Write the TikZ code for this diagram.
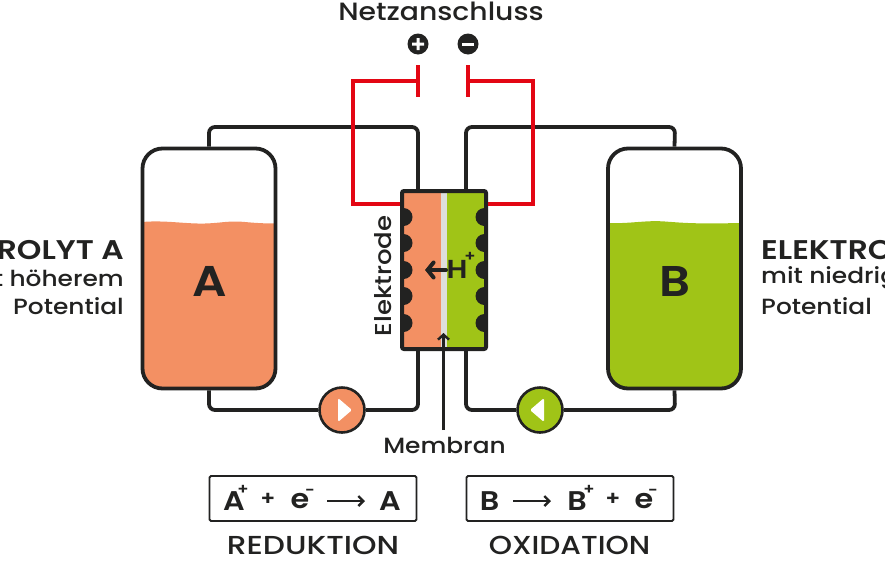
\documentclass[tikz,border=0pt]{standalone}
\usepackage{fontspec}
\setmainfont{Poppins}
\newfontfamily\wideface[FakeStretch=1.13]{Poppins Medium}
\newfontfamily\capsface[FakeStretch=1.2]{Poppins Medium}
\newfontfamily\oxiface[FakeStretch=1.14]{Poppins Medium}
\newfontfamily\capsboldface[FakeStretch=1.16]{Poppins SemiBold}
\newfontfamily\eqface[FakeStretch=1.12]{Poppins SemiBold}
\usetikzlibrary{arrows.meta}
\definecolor{ink}{HTML}{222221}
\definecolor{orangefill}{HTML}{F39063}
\definecolor{greenfill}{HTML}{A0C417}
\definecolor{redline}{HTML}{E30613}
\definecolor{membrane}{HTML}{DEDEDC}
\tikzset{
  x=1pt,y=-1pt,
  pipe/.style={draw=ink,line width=3.8pt,rounded corners=6pt},
  wire/.style={draw=redline,line width=3.6pt,line join=miter},
  plate/.style={draw=redline,line width=3.6pt},
  tank/.style={draw=ink,line width=3.8pt,rounded corners=20pt,minimum width=133pt,minimum height=240pt,inner sep=0pt},
  tanklabel/.style={text=ink,inner sep=0pt,font=\eqface\fontsize{43}{43}\selectfont},
  pump/.style={circle,draw=ink,line width=2.6pt,minimum size=45pt,inner sep=0pt},
  pole/.style={circle,fill=ink,minimum size=21pt,inner sep=0pt},
  eqbox/.style={draw=ink,line width=1.9pt,rounded corners=1.5pt,minimum width=207pt,minimum height=45pt,inner sep=0pt},
  txt/.style={text=ink,inner sep=0pt,font=\wideface\fontsize{22}{22}\selectfont},
  capstxt/.style={text=ink,inner sep=0pt,font=\capsface\fontsize{26}{26}\selectfont},
  capsbold/.style={text=ink,inner sep=0pt,font=\capsboldface\fontsize{27}{27}\selectfont},
  eq/.style={text=ink,inner sep=0pt,font=\eqface\fontsize{27}{27}\selectfont},
  sm/.style={text=ink,inner sep=0pt,font=\eqface\fontsize{15}{15}\selectfont},
  opr/.style={text=ink,inner sep=0pt,font=\eqface\fontsize{20}{20}\selectfont},
  react/.style={draw=ink,line width=2.4pt,-{Straight Barb[length=5pt,width=10pt]}},
  dot/.style={circle,fill=ink,minimum size=18pt,inner sep=0pt},
}
\begin{document}
\begin{tikzpicture}
\useasboundingbox (0,0) rectangle (885,560);
\clip (0,0) rectangle (885,560);
% liquids
\begin{scope}
\clip[rounded corners=20pt] (142,148) rectangle (276,389);
\fill[orangefill] (142,222) .. controls (165,220) and (185,224) .. (205,223.5) .. controls (222,223) and (228,220.5) .. (245,222) .. controls (255,223) and (265,223.5) .. (276,223.5) -- (276,389) -- (142,389) -- cycle;
\end{scope}
\begin{scope}
\clip[rounded corners=20pt] (607,148) rectangle (741,389);
\fill[greenfill] (607,223) .. controls (630,224) and (645,220) .. (665,221.5) .. controls (685,223) and (695,224) .. (741,223) -- (741,389) -- (607,389) -- cycle;
\end{scope}
% tanks
\node[tank] (tankA) at (209,268.5) {};
\node[tank] (tankB) at (674.5,268.5) {};
\node[tanklabel] (labelA) at (210,281) {A};
\node[tanklabel] (labelB) at (674.5,281) {B};
% cell
\fill[orangefill] (402,191) rectangle (441,349);
\fill[membrane] (441,191) rectangle (447,349);
\fill[greenfill] (447,191) rectangle (486,349);
\foreach \n/\yy in {1/217,2/243,3/270,4/296,5/323}{
  \begin{scope}
  \clip (402,191) rectangle (486,349);
  \node[dot] (dl\n) at (403.5,\yy) {};
  \node[dot] (dr\n) at (484.5,\yy) {};
  \end{scope}
}
\node[draw=ink,line width=4pt,rounded corners=2pt,minimum width=84pt,minimum height=158pt,inner sep=0pt] (cell) at (444,270) {};
\coordinate (cAt) at (418,189);
\coordinate (cAb) at (418,351);
\coordinate (cBt) at (466,189);
\coordinate (cBb) at (466,351);
\coordinate (cRl) at (400,204);
\coordinate (cRr) at (488,204);
% pumps
\node[pump,fill=orangefill] (pumpA) at (342,410) {};
\node[pump,fill=greenfill] (pumpB) at (540,410) {};
\fill[white,rounded corners=1.5pt] (pumpA.center)++(-4,-12) -- ++(14,12) -- ++(-14,12) -- cycle;
\fill[white,rounded corners=1.5pt] (pumpB.center)++(4,-12) -- ++(-14,12) -- ++(14,12) -- cycle;
% pipes
\draw[pipe] (tankA.north) -- (209,127) -- (418,127) -- (cAt);
\draw[pipe] (tankA.south) -- (209,410) -- (pumpA.west);
\draw[pipe] (pumpA.east) -- (418,410) -- (cAb);
\draw[pipe] (tankB.north) -- (675,127) -- (466,127) -- (cBt);
\draw[pipe] (tankB.south) -- (675,410) -- (pumpB.east);
\draw[pipe] (pumpB.west) -- (466,410) -- (cBb);
% red
\coordinate (pl) at (418,81);
\coordinate (pr) at (468,81);
\draw[plate] (418,65) -- (418,97);
\draw[plate] (468,65) -- (468,97);
\draw[wire] (pl) -- (353,81) -- (353,204) -- (cRl);
\draw[wire] (pr) -- (533,81) -- (533,204) -- (cRr);
% poles
\node[pole] (plus) at (418,44) {};
\node[pole] (minus) at (468,44) {};
\fill[white] (412,42.5) rectangle (424,45.5) (416.5,38) rectangle (419.5,50);
\fill[white] (462,42.5) rectangle (474,45.5);
% labels
\node[txt,font=\wideface\fontsize{25}{25}\selectfont] (netz) at (441,11) {Netzanschluss};
\node[txt,font=\wideface\fontsize{23}{23}\selectfont,rotate=90] (elek) at (383,276) {Elektrode};
\node[text=ink,inner sep=0pt,font=\eqface\fontsize{26}{26}\selectfont] (h) at (457,269) {H};
\node[text=ink,inner sep=0pt,font=\eqface\fontsize{15}{15}\selectfont] (hp) at (470,257) {+};
\coordinate (hleft) at (446,270);
\coordinate (hend) at (425,270);
\draw[draw=ink,line width=4pt,line cap=round,-{Straight Barb[length=6pt,width=15pt,line cap=round]}] (hleft) -- (hend);
\node[txt] (memb) at (444.5,445) {Membran};
\coordinate (mtip) at (443.5,333);
\coordinate (mtail) at (443.5,430);
\draw[draw=ink,line width=2.4pt,-{Straight Barb[length=5pt,width=11pt]}] (mtail) -- (mtip);
% tank captions
\node[capsbold,anchor=east] (ta1) at (124,250) {ELEKTROLYT A};
\node[txt,anchor=east] (ta2) at (124,278) {mit höherem};
\node[txt,anchor=east] (ta3) at (124,306) {Potential};
\node[capsbold,anchor=west] (tb1) at (761,250) {ELEKTROLYT B};
\node[txt,anchor=west] (tb2) at (761,278) {mit niedrigerem};
\node[txt,anchor=west] (tb3) at (761,306) {Potential};
% equations
\node[eqbox] (boxA) at (313,498.5) {};
\node[eqbox] (boxB) at (570,498.5) {};
\node[eq] (a1) at (234,501) {A};
\node[sm] (a1p) at (243,490) {+};
\node[opr] (a2) at (268,499) {+};
\node[eq] (a3) at (300,501) {e};
\node[sm] (a3m) at (310,492) {-};
\node[eq] (a4) at (390,501) {A};
\coordinate (ra1) at (327,501);
\coordinate (ra2) at (365,501);
\draw[react] (ra1) -- (ra2);
\node[eq] (b1) at (489.5,501) {B};
\node[eq] (b2) at (577,501) {B};
\node[sm] (b2p) at (589,490) {+};
\node[opr] (b3) at (613,499) {+};
\node[eq] (b4) at (644,501) {e};
\node[sm] (b4m) at (653,492) {-};
\coordinate (rb1) at (513,501);
\coordinate (rb2) at (551,501);
\draw[react] (rb1) -- (rb2);
\node[capstxt] (red) at (313,545) {REDUKTION};
\node[capstxt,font=\oxiface\fontsize{26}{26}\selectfont] (oxi) at (569.5,545) {OXIDATION};
\end{tikzpicture}
\end{document}
